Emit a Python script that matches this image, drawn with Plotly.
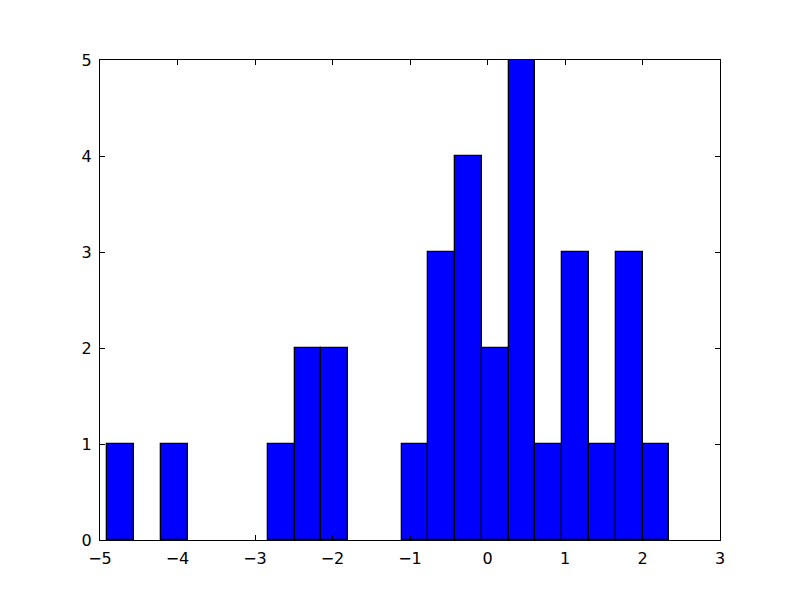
import plotly.graph_objects as go

bin_start = -4.906
bin_width = 0.3453
counts = [1, 0, 1, 0, 0, 0, 1, 2, 2, 0, 0, 1, 3, 4, 2, 5, 1, 3, 1, 3, 1]
x_ticks = [-5, -4, -3, -2, -1, 0, 1, 2, 3]
x_tick_labels = ["\u22125", "\u22124", "\u22123", "\u22122", "\u22121", "0", "1", "2", "3"]
y_ticks = [0, 1, 2, 3, 4, 5]

centers = [bin_start + bin_width * (i + 0.5) for i in range(len(counts))]
line_widths = [1.3 if c > 0 else 0 for c in counts]

fig = go.Figure(go.Bar(
    x=centers, y=counts, width=[bin_width] * len(counts),
    marker=dict(color="#0000ff", line=dict(color="black", width=line_widths)),
))
axis_common = dict(showgrid=False, zeroline=False, showline=True, linecolor="black",
                   linewidth=1.2, mirror="ticks", ticks="inside", ticklen=5,
                   tickcolor="black", tickfont=dict(family="DejaVu Sans", size=16, color="black"))
fig.update_xaxes(range=[-5, 3], tickvals=x_ticks, ticktext=x_tick_labels,
                 ticklabelstandoff=4, **axis_common)
fig.update_yaxes(range=[0, 5], tickvals=y_ticks, ticklabelstandoff=4, **axis_common)
fig.update_layout(width=800, height=600, margin=dict(l=92, r=88, t=52, b=68),
                  plot_bgcolor="white", paper_bgcolor="white", showlegend=False, bargap=0)
fig.write_html("out.html")
